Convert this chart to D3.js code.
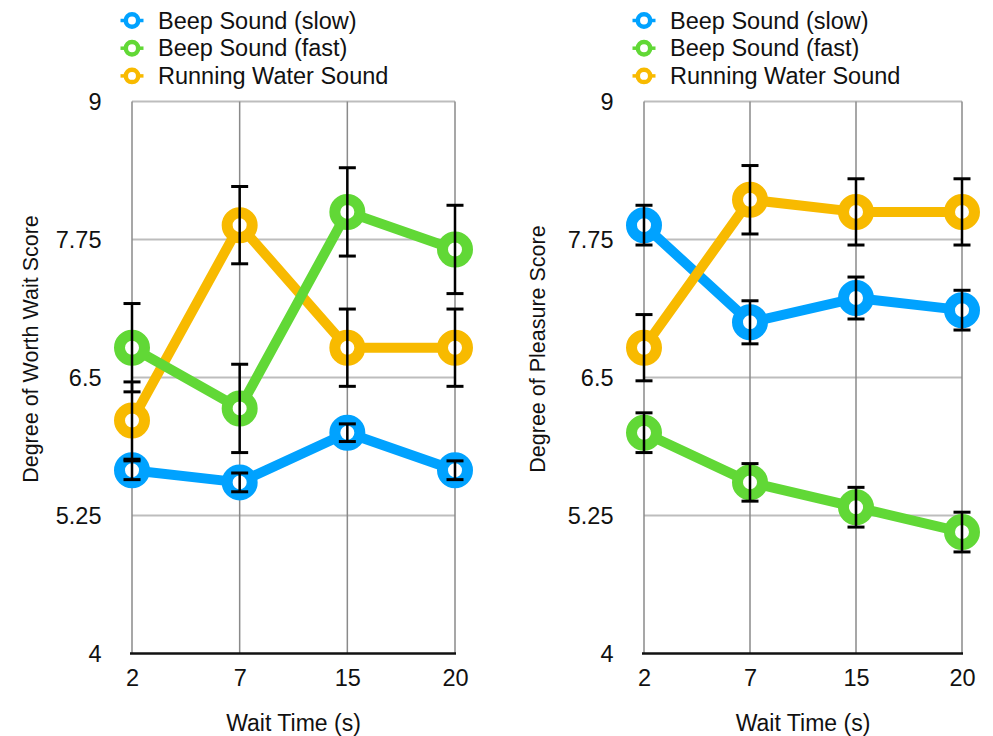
<!DOCTYPE html>
<html>
<head>
<meta charset="utf-8">
<script src="https://d3js.org/d3.v7.min.js"></script>
<style>
  html, body { margin: 0; padding: 0; background: #fff; }
  svg { display: block; font-family: "Liberation Sans", Arial, Helvetica, sans-serif; }
</style>
</head>
<body>
<svg id="chart" width="993" height="736"></svg>
<script>
// ---- data ----
const categories = ["2", "7", "15", "20"];
const yTicks = [4, 5.25, 6.5, 7.75, 9];
const seriesNames = ["Beep Sound (slow)", "Beep Sound (fast)", "Running Water Sound"];
const seriesColors = ["#00A2FF", "#61D836", "#F8BA00"];

const worthSlow = [5.66, 5.55, 6.0, 5.66];
const worthSlowErr = [0.085, 0.085, 0.08, 0.085];
const worthFast = [6.77, 6.22, 8.0, 7.66];
const worthFastErr = [0.40, 0.40, 0.40, 0.40];
const worthWater = [6.11, 7.88, 6.77, 6.77];
const worthWaterErr = [0.35, 0.35, 0.35, 0.35];

const pleasureSlow = [7.88, 7.0, 7.22, 7.11];
const pleasureSlowErr = [0.18, 0.195, 0.19, 0.18];
const pleasureFast = [6.0, 5.55, 5.325, 5.10];
const pleasureFastErr = [0.18, 0.17, 0.18, 0.18];
const pleasureWater = [6.77, 8.11, 8.0, 8.0];
const pleasureWaterErr = [0.30, 0.31, 0.30, 0.30];

const xTitle = "Wait Time (s)";

const panels = [
  { title: "Degree of Worth Wait Score", left: 132, right: 455, titleX: 31,
    values: [worthSlow, worthFast, worthWater], errs: [worthSlowErr, worthFastErr, worthWaterErr] },
  { title: "Degree of Pleasure Score", left: 644, right: 962, titleX: 538,
    values: [pleasureSlow, pleasureFast, pleasureWater], errs: [pleasureSlowErr, pleasureFastErr, pleasureWaterErr] }
];

const svg = d3.select("#chart");
const plotTop = 101.5, plotBottom = 653.5;
const y = d3.scaleLinear().domain([4, 9]).range([plotBottom, plotTop]);
const drawOrder = [0, 2, 1]; // blue, orange, green

panels.forEach(p => {
  const x = d3.scalePoint().domain(categories).range([p.left, p.right]).padding(0);
  const g = svg.append("g");

  // horizontal gridlines
  g.append("g").selectAll("line").data(yTicks.filter(t => t !== 4)).join("line")
    .attr("x1", p.left).attr("x2", p.right)
    .attr("y1", d => y(d)).attr("y2", d => y(d))
    .attr("stroke", "#bdbdbd").attr("stroke-width", 2);

  // vertical gridlines
  g.append("g").selectAll("line").data(categories).join("line")
    .attr("x1", d => x(d)).attr("x2", d => x(d))
    .attr("y1", plotTop).attr("y2", plotBottom)
    .attr("stroke", "#8a8a8a").attr("stroke-width", 1.5);

  // y axis labels
  const yAxis = d3.axisLeft(y).tickValues(yTicks).tickSize(0).tickPadding(0)
    .tickFormat(d => String(d));
  const ya = g.append("g").attr("transform", `translate(${p.left - 30.5},0)`).call(yAxis);
  ya.select(".domain").remove();
  ya.selectAll("text").attr("font-size", 23.5).attr("fill", "#111")
    .attr("font-family", "Liberation Sans, Arial, sans-serif");

  // x axis labels
  const xAxis = d3.axisBottom(x).tickSize(0).tickPadding(0);
  const xa = g.append("g").attr("transform", `translate(0,${plotBottom + 16})`).call(xAxis);
  xa.select(".domain").remove();
  xa.selectAll("text").attr("font-size", 23.5).attr("fill", "#111")
    .attr("font-family", "Liberation Sans, Arial, sans-serif");

  // baseline
  g.append("line").attr("x1", p.left - 2).attr("x2", p.right + 1)
    .attr("y1", plotBottom).attr("y2", plotBottom)
    .attr("stroke", "#111").attr("stroke-width", 2.5);

  // axis titles
  g.append("text").attr("x", (p.left + p.right) / 2).attr("y", 731)
    .attr("text-anchor", "middle").attr("font-size", 23).attr("fill", "#111")
    .text(xTitle);
  g.append("text")
    .attr("transform", `translate(${p.titleX},349) rotate(-90)`)
    .attr("text-anchor", "middle").attr("dominant-baseline", "central")
    .attr("font-size", 21.5).attr("fill", "#111")
    .text(p.title);

  // lines
  const line = d3.line().x((d, i) => x(categories[i])).y(d => y(d));
  drawOrder.forEach(s => {
    g.append("path").datum(p.values[s]).attr("d", line)
      .attr("fill", "none").attr("stroke", seriesColors[s]).attr("stroke-width", 10)
      .attr("stroke-linejoin", "round");
  });
  // markers
  drawOrder.forEach(s => {
    g.append("g").selectAll("circle").data(p.values[s]).join("circle")
      .attr("cx", (d, i) => x(categories[i])).attr("cy", d => y(d))
      .attr("r", 12.5).attr("fill", "#fff")
      .attr("stroke", seriesColors[s]).attr("stroke-width", 11);
  });
  // error bars
  drawOrder.forEach(s => {
    const eg = g.append("g");
    p.values[s].forEach((v, i) => {
      const cx = x(categories[i]);
      const e = p.errs[s][i];
      const y1 = y(v + e), y2 = y(v - e);
      eg.append("line").attr("x1", cx).attr("x2", cx).attr("y1", y1).attr("y2", y2)
        .attr("stroke", "#000").attr("stroke-width", 2.5);
      [y1, y2].forEach(yy => {
        eg.append("line").attr("x1", cx - 8.5).attr("x2", cx + 8.5).attr("y1", yy).attr("y2", yy)
          .attr("stroke", "#000").attr("stroke-width", 3);
      });
    });
  });

  // legend
  const lg = g.append("g");
  seriesNames.forEach((name, s) => {
    const ly = 20.5 + s * 27.7;
    const mx = p.left;
    lg.append("line").attr("x1", mx - 11.5).attr("x2", mx + 11.5).attr("y1", ly).attr("y2", ly)
      .attr("stroke", seriesColors[s]).attr("stroke-width", 3.5);
    lg.append("circle").attr("cx", mx).attr("cy", ly).attr("r", 6.2)
      .attr("fill", "#fff").attr("stroke", seriesColors[s]).attr("stroke-width", 4.5);
    lg.append("text").attr("x", mx + 26).attr("y", ly).attr("dominant-baseline", "central")
      .attr("font-size", 23.5).attr("fill", "#111").text(name);
  });
});
</script>
</body>
</html>
